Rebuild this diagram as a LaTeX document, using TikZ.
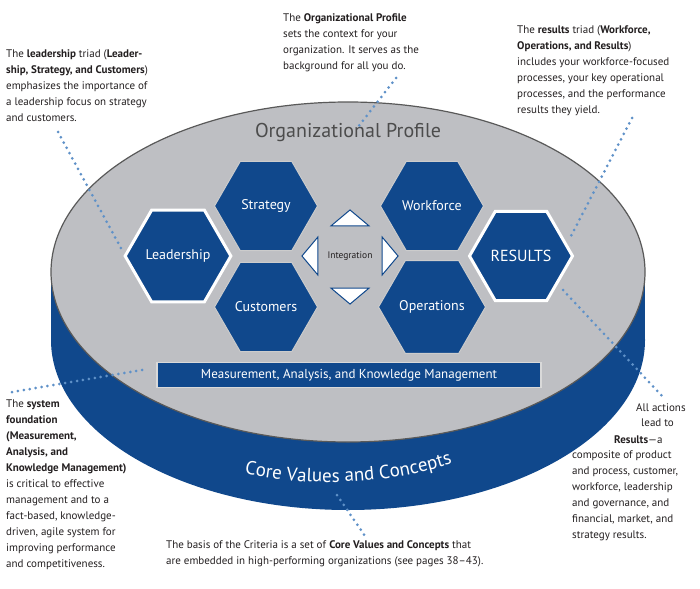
\documentclass[tikz,border=0pt]{standalone}
\usepackage{fontspec}
\setmainfont{PT Sans}
\usetikzlibrary{shapes.geometric,decorations.text}
\definecolor{bblue}{RGB}{16,72,140}
\definecolor{face}{RGB}{190,191,195}
\definecolor{dotc}{RGB}{95,145,200}
\definecolor{txt}{RGB}{35,31,32}
\begin{document}
\begin{tikzpicture}[x=1pt,y=-1pt,
  hexa/.style={regular polygon,regular polygon sides=6,minimum size=103,inner sep=0,fill=bblue,draw=gray!40,line width=1,text=white,font=\fontsize{14}{16}\selectfont},
  hexw/.style={hexa,draw=white,line width=3},
  tri/.style={isosceles triangle,isosceles triangle apex angle=100,minimum height=16,minimum width=36,inner sep=0,fill=white,draw=bblue,line width=1},
  dots/.style={draw=dotc,line width=3,line cap=round,dash pattern=on 0 off 6},
  note/.style={align=left,anchor=north west,inner sep=0,text=txt,font=\fontsize{11}{16}\selectfont}]
\useasboundingbox (0,0) rectangle (700,588);
% cylinder
\fill[bblue] (51,272) rectangle (645,340);
\fill[bblue] (348,340) ellipse [x radius=297,y radius=170];
\filldraw[fill=face,draw=gray!70!black,line width=1.2] (348,272) ellipse [x radius=297,y radius=170];
\node[text=gray!60!black,font=\fontsize{20}{22}\selectfont] (op) at (348,133) {Organizational Profile};
% hexagons
\node[hexa] (str) at (266,206) {Strategy};
\node[hexa] (cus) at (266,307) {Customers};
\node[hexa] (wor) at (432,206) {Workforce};
\node[hexa] (ope) at (432,307) {Operations};
\node[hexw] (lea) at (178,256) {Leadership};
\node[hexw,font=\fontsize{16}{18}\selectfont] (res) at (521,256) {RESULTS};
\node[font=\fontsize{9.5}{11}\selectfont,text=txt] (int) at (350,256) {Integration};
\node[tri,shape border rotate=90] (tu) at (350,219) {};
\node[tri,shape border rotate=-90] (td) at (350,295) {};
\node[tri,shape border rotate=180] (tl) at (311,256) {};
\node[tri] (tr) at (389,256) {};
\node[fill=bblue,draw=gray!30,line width=1.5,minimum width=384,minimum height=25,inner sep=0,text=white,font=\fontsize{13}{15}\selectfont] (mak) at (349,375) {Measurement, Analysis, and Knowledge Management};
% curved text
\path[decorate,decoration={text along path,text align=center,text={|\color{white}\fontsize{19}{20}\selectfont|Core Values and Concepts}}]
  (200,462) .. controls (290,492) and (405,490) .. (495,446);
% notes
\node[note] (n1) at (6,49) {The \textbf{leadership} triad (\textbf{Leader-}\\\textbf{ship, Strategy, and Customers})\\emphasizes the importance of\\a leadership focus on strategy\\and customers.};
\node[note] (n2) at (283,13) {The \textbf{Organizational Profile}\\sets the context for your\\organization. It serves as the\\background for all you do.};
\node[note] (n3) at (517,25) {The \textbf{results} triad (\textbf{Workforce,}\\\textbf{Operations, and Results})\\includes your workforce-focused\\processes, your key operational\\processes, and the performance\\results they yield.};
\node[note] (n4) at (6,400) {The \textbf{system}\\\textbf{foundation}\\\textbf{(Measurement,}\\\textbf{Analysis, and}\\\textbf{Knowledge Management)}\\is critical to effective\\management and to a\\fact-based, knowledge-\\driven, agile system for\\improving performance\\and competitiveness.};
\node[note] (n5a) at (636,403) {All actions};
\node[note] (n5b) at (641,419) {lead to};
\node[note] (n5c) at (614,435) {\textbf{Results}—a};
\node[note] (n5) at (572,451) {composite of product\\and process, customer,\\workforce, leadership\\and governance, and\\financial, market, and\\strategy results.};
\node[note] (n6) at (166,540) {The basis of the Criteria is a set of \textbf{Core Values and Concepts} that\\are embedded in high-performing organizations (see pages 38–43).};
% dotted connectors
\coordinate (d1) at (122,250);
\coordinate (d2) at (358,127);
\coordinate (d3) at (569,240);
\coordinate (d4) at (563,290);
\coordinate (d5) at (148,369);
\coordinate (d6) at (337,495);
\draw[dots] (58,132) -- (d1);
\draw[dots] (396,78) -- (d2);
\draw[dots] (632,118) -- (d3);
\draw[dots] (d4) -- (662,396);
\draw[dots] (12,392) -- (d5);
\draw[dots] (d6) -- (365,536);
\end{tikzpicture}
\end{document}
